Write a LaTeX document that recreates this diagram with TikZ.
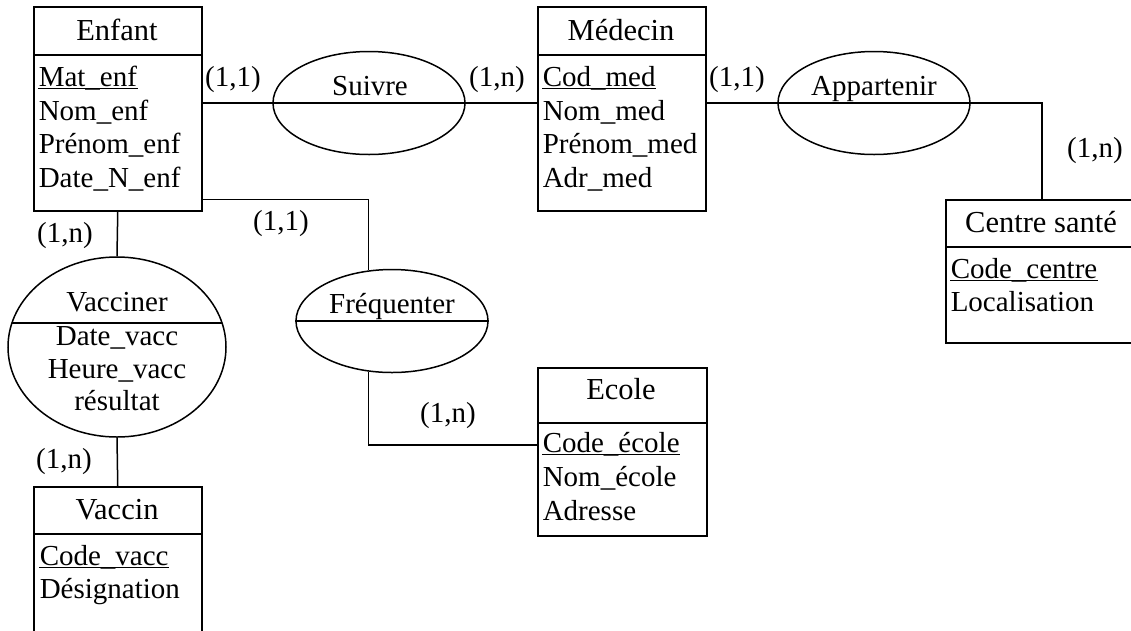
\documentclass[tikz,border=0pt]{standalone}
\usepackage{fontspec}
\setmainfont{Liberation Serif}
\usetikzlibrary{shapes.geometric}
\begin{document}
\begin{tikzpicture}[x=1pt,y=-1pt, line width=1.5pt,
  ent/.style={draw, rectangle, inner sep=0pt, anchor=north west},
  rel/.style={draw, ellipse, inner sep=0pt},
  attr/.style={anchor=base west, inner sep=0pt, font=\fontsize{29}{34}\selectfont},
  ctr/.style={anchor=base, inner sep=0pt, font=\fontsize{29}{34}\selectfont},
  ttl/.style={anchor=base, inner sep=0pt, font=\fontsize{30.5}{36}\selectfont},
  lbl/.style={anchor=base, inner sep=0pt, font=\fontsize{29}{34}\selectfont},
  uline/.style={line width=1.4pt},
]
\useasboundingbox (0,0) rectangle (1131,630);
\clip (0,0) rectangle (1131,630);

% ---------- Entities ----------
\node[ent, minimum width=168pt, minimum height=204pt] (enf) at (33,6) {};
\draw (33,55) -- (201,55);
\node[ttl] (enft) at (117,40) {Enfant};
\node[attr] (enf1) at (38,86) {Mat\_enf};
\draw[uline] ([yshift=-2.5pt]enf1.base west) -- ([yshift=-2.5pt]enf1.base east);
\node[attr] (enf2) at (38,120) {Nom\_enf};
\node[attr] (enf3) at (38,153) {Prénom\_enf};
\node[attr] (enf4) at (38,187) {Date\_N\_enf};

\node[ent, minimum width=168pt, minimum height=204pt] (med) at (537,6) {};
\draw (537,55) -- (705,55);
\node[ttl] (medt) at (621,40) {Médecin};
\node[attr] (med1) at (542,86) {Cod\_med};
\draw[uline] ([yshift=-2.5pt]med1.base west) -- ([yshift=-2.5pt]med1.base east);
\node[attr] (med2) at (542,120) {Nom\_med};
\node[attr] (med3) at (542,153) {Prénom\_med};
\node[attr] (med4) at (542,187) {Adr\_med};

\node[ent, minimum width=192pt, minimum height=143pt] (cs) at (945,199) {};
\draw (945,247) -- (1137,247);
\node[ttl] (cst) at (1041,232) {Centre santé};
\node[attr] (cs1) at (950,278) {Code\_centre};
\draw[uline] ([yshift=-2.5pt]cs1.base west) -- ([yshift=-2.5pt]cs1.base east);
\node[attr] (cs2) at (950,311) {Localisation};

\node[ent, minimum width=169pt, minimum height=168pt] (ecole) at (537,367) {};
\draw (537,423) -- (706,423);
\node[ttl] (ecolet) at (621,399) {Ecole};
\node[attr] (ec1) at (542,452) {Code\_école};
\draw[uline] ([yshift=-2.5pt]ec1.base west) -- ([yshift=-2.5pt]ec1.base east);
\node[attr] (ec2) at (542,486) {Nom\_école};
\node[attr] (ec3) at (542,520) {Adresse};

\node[ent, minimum width=168pt, minimum height=170pt] (vaccin) at (33,486) {};
\draw (33,534) -- (201,534);
\node[ttl] (vaccint) at (117,519) {Vaccin};
\node[attr] (va1) at (39,565) {Code\_vacc};
\draw[uline] ([yshift=-2.5pt]va1.base west) -- ([yshift=-2.5pt]va1.base east);
\node[attr] (va2) at (39,598) {Désignation};

% ---------- Relations ----------
\node[rel, minimum width=192pt, minimum height=103pt] (suivre) at (369,103) {};
\node[ctr] (suivret) at (370,95) {Suivre};

\node[rel, minimum width=192pt, minimum height=103pt] (app) at (874,103) {};
\node[ctr] (appt) at (874,95) {Appartenir};

\node[rel, minimum width=192pt, minimum height=103pt] (freq) at (392,321) {};
\draw (freq.west) -- (freq.east);
\node[ctr] (freqt) at (392,313) {Fréquenter};

\node[rel, minimum width=218pt, minimum height=180pt] (vac) at (117,347) {};
\begin{scope}
  \clip (117,347) ellipse [x radius=109pt, y radius=90pt];
  \draw (0,323) -- (240,323);
\end{scope}
\node[ctr] (vact) at (117,311) {Vacciner};
\node[ctr] (vac1) at (117,345) {Date\_vacc};
\node[ctr] (vac2) at (117,378) {Heure\_vacc};
\node[ctr] (vac3) at (117,410) {résultat};

% ---------- Connectors ----------
\draw (enf.east |- suivre.center) -- (med.west |- suivre.center);
\draw (med.east |- app.center) -| (cs.north);
\draw ([yshift=12pt]enf.south east) -| (freq.115);
\draw (freq.245) |- ([yshift=-78pt]ecole.north west);
\draw (enf.south) -- (vac.north);
\draw (vac.south) -- (vaccin.north);

% ---------- Cardinalities ----------
\node[lbl] (c1) at (233,86) {(1,1)};
\node[lbl] (c2) at (497,86) {(1,n)};
\node[lbl] (c3) at (737,86) {(1,1)};
\node[lbl] (c4) at (1095,157) {(1,n)};
\node[lbl] (c5) at (281,230) {(1,1)};
\node[lbl] (c6) at (65,242) {(1,n)};
\node[lbl] (c7) at (64,468) {(1,n)};
\node[lbl] (c8) at (448,422) {(1,n)};
\end{tikzpicture}
\end{document}
